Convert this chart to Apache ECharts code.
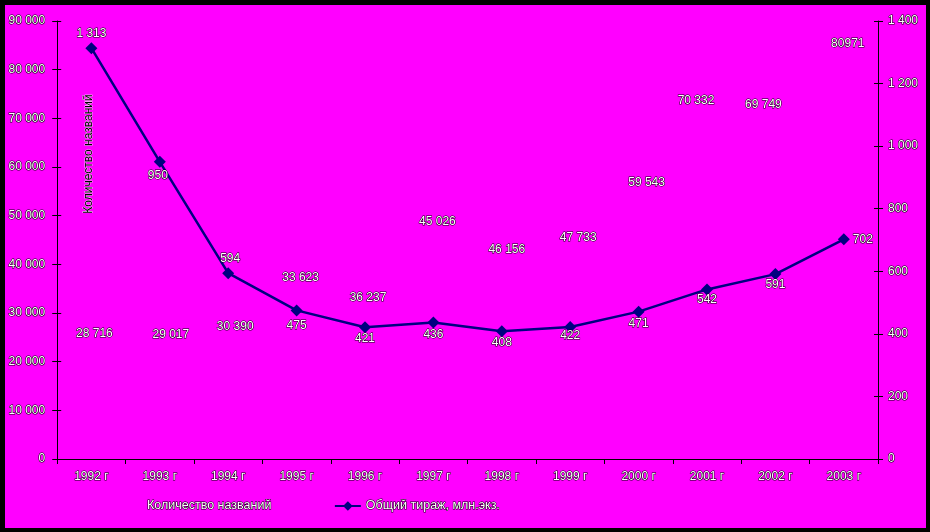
<!DOCTYPE html>
<html>
<head>
<meta charset="utf-8">
<script src="https://cdn.jsdelivr.net/npm/echarts@6/dist/echarts.min.js"></script>
<style>
html,body{margin:0;padding:0;background:#000;width:930px;height:532px;overflow:hidden;}
#c{position:absolute;left:5px;top:5px;width:921px;height:523px;background:#ff00ff;}
</style>
</head>
<body>
<div id="c"></div>
<script>
const categories = ['1992 г','1993 г','1994 г','1995 г','1996 г','1997 г','1998 г','1999 г','2000 г','2001 г','2002 г','2003 г'];
const titlesCount = [28716, 29017, 30390, 33623, 36237, 45026, 46156, 47733, 59543, 70332, 69749, 80971];
const titlesLabels = ['28 716','29 017','30 390','33 623','36 237','45 026','46 156','47 733','59 543','70 332','69 749','80971'];
const circulation = [1313, 950, 594, 475, 421, 436, 408, 422, 471, 542, 591, 702];
const leftTicks = {min: 0, max: 90000, interval: 10000};
const rightTicks = {min: 0, max: 1400, interval: 200};

const fmt = v => String(v).replace(/\B(?=(\d{3})+(?!\d))/g, ' ');
const FONT = 'Liberation Sans';
const txt = {color: '#ffffff', textBorderColor: '#000000', textBorderWidth: 1, fontFamily: FONT, fontSize: 12};

// label placement styles
const barLabelOffsets = [[3,25],[11,28],[7,27],[4,-7],[3,26],[4,-7],[5,26],[8,22],[8,24],[-11,-5],[-12,-4],[4,-10]];
const linePos = ['top','bottom','top','bottom','bottom','bottom','bottom','bottom','bottom','bottom','bottom','right'];
const lineOff = [[0,2],[-2,-3],[2,3],[0,-2],[0,-6],[0,-5],[0,-6],[0,-8],[0,-5],[0,-7],[0,-6],[-2,0]];

const axisLineStyle = {show: true, lineStyle: {color: '#000', width: 1}};
const tickOut = {show: true, length: 5, lineStyle: {color: '#000'}};
const tickIn = {show: true, inside: true, length: 4, lineStyle: {color: '#000'}};

const chart = echarts.init(document.getElementById('c'));
chart.setOption({
  animation: false,
  backgroundColor: '#ff00ff',
  textStyle: {fontFamily: FONT},
  grid: {left: 52, right: 48, top: 16, bottom: 69},
  legend: {
    bottom: 10, left: 106, itemGap: 62, itemWidth: 26, itemHeight: 12,
    textStyle: Object.assign({}, txt, {fontSize: 12.5}),
    data: [
      {name: 'Количество названий', icon: 'rect'},
      {name: 'Общий тираж, млн.экз.'}
    ]
  },
  xAxis: {
    type: 'category', data: categories,
    axisLine: axisLineStyle,
    axisTick: tickOut,
    axisLabel: Object.assign({margin: 12}, txt),
    splitLine: {show: false}
  },
  yAxis: [
    Object.assign({
      type: 'value', position: 'left',
      axisLine: axisLineStyle, axisTick: tickOut,
      axisLabel: Object.assign({margin: 12, formatter: fmt}, txt),
      splitLine: {show: false}
    }, leftTicks),
    Object.assign({
      type: 'value', position: 'right',
      axisLine: axisLineStyle, axisTick: tickOut,
      axisLabel: Object.assign({margin: 10, formatter: fmt}, txt),
      splitLine: {show: false}
    }, rightTicks),
    Object.assign({
      type: 'value', position: 'left', offset: 0,
      axisLine: {show: false}, axisTick: tickIn,
      axisLabel: {show: false}, splitLine: {show: false}
    }, leftTicks),
    Object.assign({
      type: 'value', position: 'right', offset: 0,
      axisLine: {show: false}, axisTick: tickIn,
      axisLabel: {show: false}, splitLine: {show: false}
    }, rightTicks)
  ],
  graphic: [
    {type: 'text', x: 84, y: 149, rotation: Math.PI/2,
     style: {text: 'Количество названий', fill: '#000', stroke: '#fff', lineWidth: 0.6, font: '12px "Liberation Sans"', align: 'center', verticalAlign: 'middle'}},
    {type: 'text', x: 841, y: 152, rotation: Math.PI/2,
     style: {text: 'Тираж, млн.экз.', fill: '#000', stroke: '#fff', lineWidth: 0.6, font: '12px "Liberation Sans"', align: 'center', verticalAlign: 'middle'}}
  ],
  series: [
    {
      name: 'Количество названий', type: 'bar', yAxisIndex: 0,
      barWidth: '50%',
      itemStyle: {color: '#ff00ff'},
      data: titlesCount.map((v, i) => ({
        value: v,
        label: {show: true, position: 'top', offset: barLabelOffsets[i], formatter: titlesLabels[i]}
      })),
      label: Object.assign({show: true}, txt),
      z: 1
    },
    {
      name: 'Общий тираж, млн.экз.', type: 'line', yAxisIndex: 1,
      symbol: 'diamond', symbolSize: 12,
      lineStyle: {color: '#000080', width: 2.5},
      itemStyle: {color: '#000080'},
      data: circulation.map((v, i) => ({
        value: v,
        label: {show: true, position: linePos[i], offset: lineOff[i]}
      })),
      label: Object.assign({show: true, formatter: p => fmt(p.value)}, txt),
      z: 3
    }
  ]
});
</script>
</body>
</html>
